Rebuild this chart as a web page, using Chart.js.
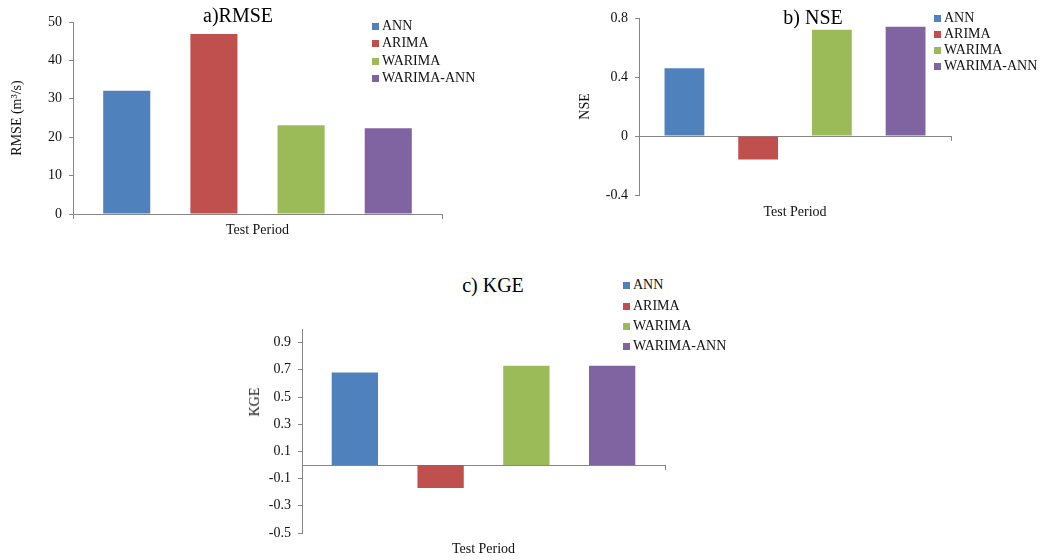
<!DOCTYPE html>
<html>
<head>
<meta charset="utf-8">
<script src="https://cdn.jsdelivr.net/npm/chart.js@4.4.1/dist/chart.umd.min.js"></script>
<style>
  body { margin: 0; background: #fff; width: 1046px; height: 560px; position: relative; overflow: hidden; font-family: 'Liberation Serif', 'Times New Roman', serif; }
  canvas { position: absolute; }
  .ttl { position: absolute; font-size: 20px; transform: translate(-50%, -50%); white-space: nowrap; color: #000; }
  .ytl { position: absolute; font-size: 14px; color: #111; white-space: nowrap; transform: translate(-50%, -50%) rotate(-90deg); }
  .item { position: absolute; white-space: nowrap; font-size: 14px; line-height: 16px; color: #111; display: flex; align-items: center; transform: translateY(-50%); }
  .sw { width: 7px; height: 7px; margin-right: 3px; }
</style>
</head>
<body>
<canvas id="rmseChart" width="460" height="250" style="left:0px;top:0px;width:460px;height:250px"></canvas>
<canvas id="nseChart" width="420" height="230" style="left:560px;top:0px;width:420px;height:230px"></canvas>
<canvas id="kgeChart" width="450" height="260" style="left:240px;top:300px;width:450px;height:260px"></canvas>

<script>
// data
const models = ['ANN', 'ARIMA', 'WARIMA', 'WARIMA-ANN'];
const category = ['Test Period'];
const rmse = [32.1, 46.9, 23.1, 22.3];
const nse = [0.46, -0.16, 0.72, 0.74];
const kge = [0.68, -0.17, 0.73, 0.73];
const rmseTicks = [0, 10, 20, 30, 40, 50];
const nseTicks = [-0.4, 0, 0.4, 0.8];
const kgeTicks = [-0.5, -0.3, -0.1, 0.1, 0.3, 0.5, 0.7, 0.9];

const colors = ['#4F81BD', '#C0504D', '#9BBB59', '#8064A2'];
const axisColor = '#868686';
const serif = "'Liberation Serif', 'Times New Roman', serif";

function makePanel(p) {
    const ctx = document.getElementById(p.id).getContext('2d');
    return new Chart(ctx, {
        type: 'bar',
        data: {
            labels: category,
            datasets: models.map((m, i) => ({
                label: m,
                data: [p.values[i]],
                backgroundColor: colors[i],
                xAxisID: 'x',
                yAxisID: 'y',
                categoryPercentage: 0.945,
                barPercentage: 0.54
            }))
        },
        options: {
            responsive: false,
            animation: false,
            layout: { padding: { top: p.padTop, right: p.padRight, left: 0, bottom: 0 } },
            plugins: { legend: { display: false }, tooltip: { enabled: false } },
            scales: {
                // zero line with the small end ticks
                x: {
                    position: { y: 0 },
                    ticks: { display: false },
                    grid: { drawOnChartArea: false, color: axisColor, tickLength: 4 },
                    border: { color: axisColor, width: 1 }
                },
                // only carries the "Test Period" title at the bottom
                x2: {
                    type: 'category',
                    position: 'bottom',
                    grid: { display: false },
                    border: { display: false },
                    ticks: { display: false },
                    title: {
                        display: true,
                        text: 'Test Period',
                        color: '#111',
                        font: { family: serif, size: 14 },
                        padding: { top: 0, bottom: p.xTitlePad }
                    },
                    afterFit: s => { s.height = p.xH; }
                },
                y: {
                    min: p.min,
                    max: p.max,
                    afterBuildTicks: s => { s.ticks = p.ticks.map(v => ({ value: v })); },
                    ticks: {
                        autoSkip: false,
                        padding: 7,
                        color: '#111',
                        font: { family: serif, size: 14 },
                        callback: v => String(v)
                    },
                    grid: { drawOnChartArea: false, color: axisColor, tickLength: 4 },
                    border: { color: axisColor, width: 1 },
                    title: {
                        display: !!p.yTitle,
                        text: p.yTitle,
                        color: '#111',
                        font: { family: serif, size: 14 },
                        padding: { top: p.yTitlePad, bottom: 0 }
                    },
                    afterFit: s => { s.width = p.yWidth; }
                }
            }
        }
    });
}

makePanel({ id: 'rmseChart', values: rmse, ticks: rmseTicks, min: 0, max: 50, yTitle: 'RMSE (m³/s)',
    padTop: 22, padRight: 18, yWidth: 73, yTitlePad: 8.6, xH: 36, xTitlePad: 11.6 });
makePanel({ id: 'nseChart', values: nse, ticks: nseTicks, min: -0.4, max: 0.8, yTitle: 'NSE',
    padTop: 18, padRight: 29, yWidth: 79, yTitlePad: 16.6, xH: 35, xTitlePad: 9.6 });
makePanel({ id: 'kgeChart', values: kge, ticks: kgeTicks, min: -0.5, max: 1.0, yTitle: '',
    padTop: 29, padRight: 25, yWidth: 62, yTitlePad: 6.6, xH: 27, xTitlePad: 2.6 });

// titles and legends (html overlay)
function addText(cls, text, x, y) {
    const d = document.createElement('div');
    d.className = cls;
    d.textContent = text;
    d.style.left = x + 'px';
    d.style.top = y + 'px';
    document.body.appendChild(d);
}
function addLegend(x, rows) {
    models.forEach((m, i) => {
        const d = document.createElement('div');
        d.className = 'item';
        d.style.left = x + 'px';
        d.style.top = rows[i] + 'px';
        d.innerHTML = '<span class="sw" style="background:' + colors[i] + '"></span>' + m;
        document.body.appendChild(d);
    });
}
addText('ttl', 'a)RMSE', 238, 15);
addText('ttl', 'b) NSE', 813, 17);
addText('ttl', 'c) KGE', 493, 285);
addText('ytl', 'KGE', 255, 402);   // KGE axis title sits above centre in the original
addLegend(372, [26, 43, 61, 78]);
addLegend(934, [18, 34, 50, 66]);
addLegend(623, [285, 306, 326, 346]);
</script>
</body>
</html>
